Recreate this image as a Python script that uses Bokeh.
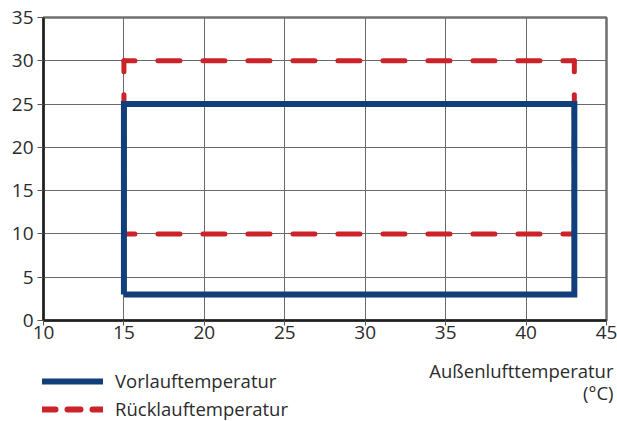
from bokeh.plotting import figure
from bokeh.layouts import column
from bokeh.models import Range1d, FixedTicker, Label, Legend, LegendItem, ColumnDataSource
from bokeh.embed import file_html
from bokeh.resources import INLINE

# data
x_ticks = [10, 15, 20, 25, 30, 35, 40, 45]
y_ticks = [0, 5, 10, 15, 20, 25, 30, 35]
vorlauf_x = [15, 43]      # outdoor temperature limits
vorlauf_y = [3, 25]       # flow temperature limits
ruecklauf_x = [15, 43]
ruecklauf_y = [10, 30]    # return temperature limits
series_names = ["Vorlauftemperatur", "Rücklauftemperatur"]
x_title = ["Außenlufttemperatur", "(°C)"]

FONT = "Open Sans"
BLUE = "#113f7c"
RED = "#cc2229"
TXT = "#2b2b2b"

W = 617
H1 = 349
H2 = 72

p = figure(width=W, height=H1, output_backend="svg", toolbar_location=None,
           x_range=Range1d(10, 45), y_range=Range1d(0, 35),
           min_border_left=43, min_border_right=11, min_border_top=17, min_border_bottom=29)
p.outline_line_color = "#707070"
p.outline_line_width = 2.5
p.background_fill_color = "white"
p.border_fill_color = "white"

for ax, ticks in ((p.xaxis[0], x_ticks), (p.yaxis[0], y_ticks)):
    ax.ticker = FixedTicker(ticks=ticks)
    ax.major_label_text_font = FONT
    ax.major_label_text_font_size = "19px"
    ax.major_label_text_color = TXT
    ax.axis_line_color = "#1e1e1e"
    ax.axis_line_width = 2.5
    ax.major_tick_line_color = "#555555"
    ax.major_tick_line_width = 1
    ax.minor_tick_line_color = None
p.xaxis.major_tick_out = 5
p.xaxis.major_tick_in = 0
p.xaxis.major_label_standoff = 0
p.yaxis.major_tick_out = 6
p.yaxis.major_tick_in = 0
p.yaxis.major_label_standoff = 4

p.grid.grid_line_color = "#6a6a6a"
p.grid.grid_line_width = 1
p.xgrid.ticker = FixedTicker(ticks=x_ticks)
p.ygrid.ticker = FixedTicker(ticks=y_ticks)

# Rücklauf: dashed rectangle, each side starting at a corner
rx0, rx1 = ruecklauf_x
ry0, ry1 = ruecklauf_y
p.multi_line(xs=[[rx0, rx1], [rx1, rx1], [rx0, rx0], [rx0, rx1]],
             ys=[[ry1, ry1], [ry1, ry0], [ry1, ry0], [ry0, ry0]],
             line_color=RED, line_width=5, line_dash="22 23", line_dash_offset=11,
             line_cap="round")

# Vorlauf: solid rectangle
vx0, vx1 = vorlauf_x
vy0, vy1 = vorlauf_y
p.line([vx0, vx0, vx1, vx1, vx0], [vy0, vy1, vy1, vy0, vy0],
       line_color=BLUE, line_width=6, line_join="miter")

# lower strip: axis title and legend (coordinates = pixels of this strip)
p2 = figure(width=W, height=H2, output_backend="svg", toolbar_location=None,
            x_range=Range1d(0, W), y_range=Range1d(0, H2),
            x_axis_location=None, y_axis_location=None,
            min_border_left=0, min_border_right=0, min_border_top=0, min_border_bottom=0)
p2.outline_line_color = None
p2.grid.visible = False
p2.background_fill_color = "white"
p2.border_fill_color = "white"

for fig in (p, p2):
    if "frame_align" in fig.properties():
        fig.frame_align = False

nan = float("nan")
leg_blue = p2.line("x", "y", source=ColumnDataSource(data=dict(x=[nan], y=[nan])),
                   line_color=BLUE, line_width=6, line_cap="round")
leg_red = p2.line("x", "y", source=ColumnDataSource(data=dict(x=[nan], y=[nan])),
                  line_color=RED, line_width=6, line_dash="13 12", line_cap="round")

legend = Legend(items=[LegendItem(label=series_names[0], renderers=[leg_blue]),
                       LegendItem(label=series_names[1], renderers=[leg_red])],
                location=(42, 0), orientation="vertical",
                glyph_width=61, glyph_height=16, label_height=16, spacing=3,
                padding=0, margin=0,
                label_text_font=FONT, label_text_font_size="18.5px", label_text_color=TXT,
                label_text_baseline="alphabetic",
                label_standoff=12, border_line_color=None, background_fill_alpha=0)
p2.add_layout(legend, "center")

p2.add_layout(Label(x=613, y=51, text=x_title[0], text_align="right",
                    text_baseline="alphabetic", text_font=FONT,
                    text_font_size="18.5px", text_color=TXT))
p2.add_layout(Label(x=613, y=29, text=x_title[1], text_align="right",
                    text_baseline="alphabetic", text_font=FONT,
                    text_font_size="18.5px", text_color=TXT))

layout = column(p, p2, spacing=0)
open("out.html", "w").write(file_html(layout, INLINE))
